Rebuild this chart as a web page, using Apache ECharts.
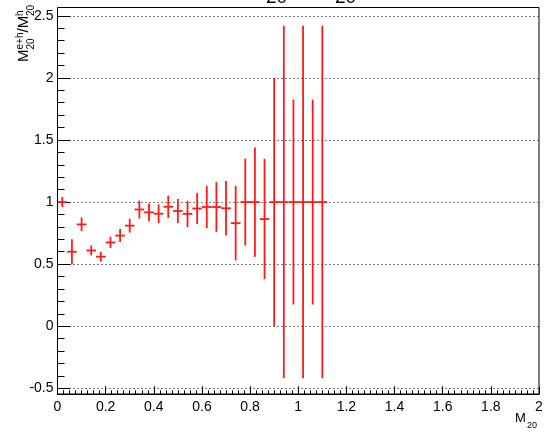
<!DOCTYPE html>
<html>
<head>
<meta charset="utf-8">
<script src="https://cdn.jsdelivr.net/npm/echarts@6/dist/echarts.min.js"></script>
<style>
html,body{margin:0;padding:0;background:#fff;}
#c{width:549px;height:437px;}
</style>
</head>
<body>
<div id="c"></div>
<script>
// ---- data ----
var binCenters = [0.02,0.06,0.10,0.14,0.18,0.22,0.26,0.30,0.34,0.38,0.42,0.46,0.50,0.54,0.58,0.62,0.66,0.70,0.74,0.78,0.82,0.86,0.90,0.94,0.98,1.02,1.06,1.10];
var ratioValues = [1.00,0.60,0.82,0.61,0.56,0.675,0.73,0.81,0.94,0.917,0.906,0.962,0.928,0.905,0.948,0.96,0.96,0.95,0.83,1.00,1.00,0.863,1.00,1.00,1.00,1.00,1.00,1.00];
var ratioErrors = [0.04,0.10,0.055,0.04,0.04,0.045,0.052,0.056,0.072,0.072,0.075,0.09,0.097,0.106,0.126,0.17,0.20,0.22,0.30,0.35,0.44,0.485,1.00,1.42,0.825,1.42,0.825,1.42];
var binHalfWidths = [0.02,0.02,0.02,0.02,0.02,0.02,0.02,0.02,0.02,0.02,0.02,0.02,0.02,0.02,0.02,0.02,0.02,0.02,0.02,0.02,0.02,0.02,0.02,0.02,0.02,0.02,0.02,0.02];
var xTickValues = [0,0.2,0.4,0.6,0.8,1,1.2,1.4,1.6,1.8,2];
var yTickValues = [-0.5,0,0.5,1,1.5,2,2.5];

var seriesData = binCenters.map(function(x,i){ return [x, ratioValues[i], ratioErrors[i], binHalfWidths[i]]; });

var chart = echarts.init(document.getElementById('c'), null, {renderer:'canvas'});
var FONT = 'Liberation Sans, Arial, sans-serif';
var RED = '#ff1a1a';

function renderCross(params, api){
  var x = api.value(0), y = api.value(1), ey = api.value(2), ex = api.value(3);
  var pL = api.coord([x-ex, y]), pR = api.coord([x+ex, y]);
  var pT = api.coord([x, y+ey]), pB = api.coord([x, y-ey]);
  var st = {stroke: RED, lineWidth: 1.8};
  return {type:'group', children:[
    {type:'line', shape:{x1:pL[0], y1:pL[1], x2:pR[0], y2:pR[1]}, style:st},
    {type:'line', shape:{x1:pT[0], y1:pT[1], x2:pB[0], y2:pB[1]}, style:st}
  ]};
}

var MF = 15, SF = 10;
var yTitle = {
  type:'group', x:31, y:62, rotation: Math.PI/2,
  children:[
    {type:'text', x:0, y:0, style:{text:'M', font: MF+'px '+FONT, fill:'#000', verticalAlign:'bottom'}},
    {type:'text', x:12.5, y:-6, style:{text:'e+h', font: SF+'px '+FONT, fill:'#000', verticalAlign:'bottom'}},
    {type:'text', x:12.5, y:5, style:{text:'20', font: SF+'px '+FONT, fill:'#000', verticalAlign:'bottom'}},
    {type:'text', x:29.5, y:0, style:{text:'/M', font: MF+'px '+FONT, fill:'#000', verticalAlign:'bottom'}},
    {type:'text', x:46, y:-6, style:{text:'h', font: SF+'px '+FONT, fill:'#000', verticalAlign:'bottom'}},
    {type:'text', x:46, y:5, style:{text:'20', font: SF+'px '+FONT, fill:'#000', verticalAlign:'bottom'}}
  ]
};

var option = {
  backgroundColor:'#fff',
  animation:false,
  grid:{left:57.5, right:10, top:15.8, bottom:48.7, show:false},
  xAxis:{
    type:'value', min:0, max:2, interval:0.2, offset:6,
    axisLine:{show:true, onZero:false, lineStyle:{color:'#000', width:1}},
    axisTick:{show:true, inside:true, length:8, lineStyle:{color:'#000', width:1}},
    minorTick:{show:true, splitNumber:8, length:4, lineStyle:{color:'#000', width:1}},
    splitLine:{show:false},
    minorSplitLine:{show:false},
    axisLabel:{show:true, margin:6, color:'#000', fontSize:14, fontFamily:FONT,
      customValues: xTickValues}
  },
  yAxis:{
    type:'value', min:-0.5, max:2.5, interval:0.5,
    axisLine:{show:true, onZero:false, lineStyle:{color:'#000', width:1}},
    axisTick:{show:true, inside:true, length:13, lineStyle:{color:'#000', width:1}},
    minorTick:{show:true, splitNumber:5, length:7, lineStyle:{color:'#000', width:1}},
    splitLine:{show:true, lineStyle:{color:'#000', width:1, type:[1,3]}},
    axisLabel:{show:true, margin:4, color:'#000', fontSize:14, fontFamily:FONT,
      customValues: yTickValues}
  },
  series:[{
    type:'custom',
    renderItem: renderCross,
    data: seriesData,
    encode:{x:0, y:1},
    clip:false,
    z:5
  }],
  graphic:[
    {type:'rect', shape:{x:57.5, y:7.5, width:481.5, height:386.5}, style:{fill:null, stroke:'#000', lineWidth:1}, z:10, silent:true},
    yTitle,
    {type:'text', x:515, y:425, style:{text:'M', font:'13px '+FONT, fill:'#000', verticalAlign:'bottom'}},
    {type:'text', x:527, y:430, style:{text:'20', font:'9px '+FONT, fill:'#000', verticalAlign:'bottom'}},
    {type:'text', x:266, y:7, style:{text:'20', font:'19px '+FONT, fill:'#000', verticalAlign:'bottom'}},
    {type:'text', x:335, y:7, style:{text:'20', font:'19px '+FONT, fill:'#000', verticalAlign:'bottom'}}
  ]
};
chart.setOption(option);
</script>
</body>
</html>
